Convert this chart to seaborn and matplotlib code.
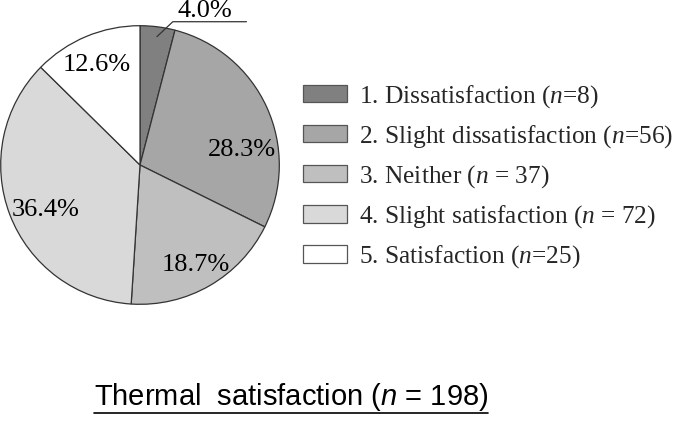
import matplotlib
matplotlib.use("Agg")
import matplotlib.pyplot as plt
import seaborn as sns
from matplotlib.lines import Line2D

# ---- data ----
categories = ["1. Dissatisfaction", "2. Slight dissatisfaction", "3. Neither",
              "4. Slight satisfaction", "5. Satisfaction"]
counts = [8, 56, 37, 72, 25]
n_labels = ["($n$=8)", "($n$=56)", "($n$ = 37)", "($n$ = 72)", "($n$=25)"]
pct_labels = ["4.0%", "28.3%", "18.7%", "36.4%", "12.6%"]
colors = ["#808080", "#a6a6a6", "#bfbfbf", "#d9d9d9", "#ffffff"]
title_text = r"Thermal  satisfaction ($\mathsf{n}$ = 198)"

sns.set_theme(style="white")
plt.rcParams["font.family"] = ["Liberation Serif", "DejaVu Serif"]
plt.rcParams["mathtext.fontset"] = "custom"
plt.rcParams["mathtext.rm"] = "Liberation Serif"
plt.rcParams["mathtext.it"] = "Liberation Serif:italic"
plt.rcParams["mathtext.sf"] = "Liberation Sans:italic"

W, H = 684, 425
fig = plt.figure(figsize=(W / 100, H / 100), dpi=100)
fig.patch.set_facecolor("white")

# pie axes: center (140,165) px, radius 140 px
ax = fig.add_axes([0 / W, (H - 305) / H, 280 / W, 280 / H])
wedges, _ = ax.pie(counts, colors=colors, startangle=90, counterclock=False,
                   radius=1.0,
                   wedgeprops=dict(edgecolor="#333333", linewidth=0.9))
ax.set_xlim(-1.005, 1.005)
ax.set_ylim(-1.005, 1.005)
ax.set_aspect("equal")
ax.axis("off")

def px2d(px, py):
    return (px - 140) / 140, (165 - py) / 140

label_px = [(205, 10), (242, 150), (196, 265), (45, 210), (97, 64)]
for lab, (px, py) in zip(pct_labels, label_px):
    x, y = px2d(px, py)
    ax.text(x, y, lab, ha="center", va="center", fontsize=19,
            color="black", clip_on=False)

# leader line for small slice
lx, ly = zip(px2d(157, 36), px2d(173, 21), px2d(247, 21))
ax.plot(lx, ly, color="#333333", linewidth=0.9, clip_on=False)

# legend
fs = 18.3
handles = [plt.Rectangle((0, 0), 1, 1, facecolor=c, edgecolor="#555555", linewidth=0.9)
           for c in colors]
labels = [f"{c} {n}" for c, n in zip(categories, n_labels)]
leg = fig.legend(handles, labels, loc="upper left",
                 bbox_to_anchor=(298 / W, (H - 78) / H),
                 frameon=False, fontsize=fs,
                 handlelength=1.74, handleheight=0.68,
                 handletextpad=0.45, labelspacing=0.52,
                 borderpad=0.2, borderaxespad=0)

# title with underline
t = fig.text(291 / W, (H - 397) / H, title_text, ha="center", va="center",
             fontsize=21, family="Liberation Sans", color="black")
fig.canvas.draw()
bb = t.get_window_extent()
fig.add_artist(Line2D([bb.x0 / W, bb.x1 / W], [(H - 413) / H, (H - 413) / H],
                      transform=fig.transFigure, color="black", linewidth=1.2))

fig.savefig("out.png", dpi=100, facecolor="white")
